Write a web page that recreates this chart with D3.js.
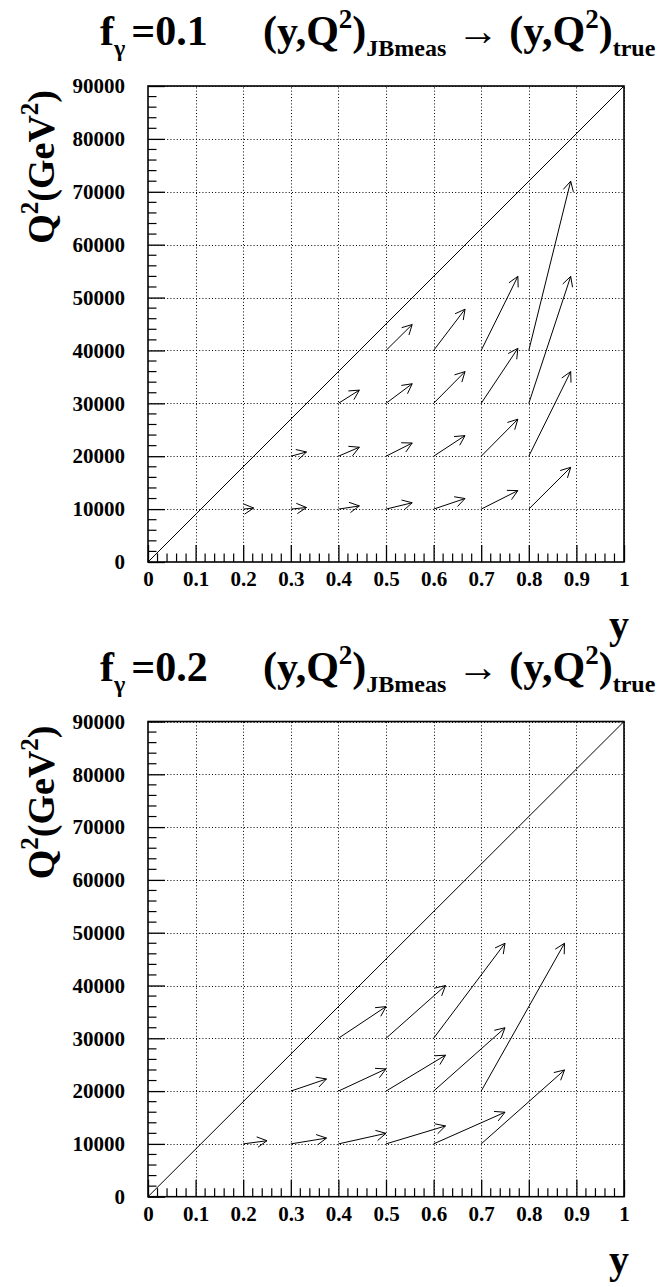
<!DOCTYPE html>
<html>
<head>
<meta charset="utf-8">
<script src="https://cdn.jsdelivr.net/npm/d3@7"></script>
<style>
  body { margin: 0; background: #fff; }
  svg { display: block; }
</style>
</head>
<body>
<script>
// ---- axis ticks ----
const yTicks = [0, 0.1, 0.2, 0.3, 0.4, 0.5, 0.6, 0.7, 0.8, 0.9, 1];
const yTickLabels = ["0", "0.1", "0.2", "0.3", "0.4", "0.5", "0.6", "0.7", "0.8", "0.9", "1"];
const q2Ticks = [0, 10000, 20000, 30000, 40000, 50000, 60000, 70000, 80000, 90000];
const q2TickLabels = ["0", "10000", "20000", "30000", "40000", "50000", "60000", "70000", "80000", "90000"];

// kinematic limit Q2 = s*y
const limitY = [0, 1];
const limitQ2 = [0, 90000];

// ---- f_gamma = 0.1 : measured (JB) -> true migration ----
const fGammaA = "0.1";
const rowsA_Q2meas = [10000, 20000, 30000, 40000];
const rowsA_yMeas = [
  [0.2, 0.3, 0.4, 0.5, 0.6, 0.7, 0.8],
  [0.3, 0.4, 0.5, 0.6, 0.7, 0.8],
  [0.4, 0.5, 0.6, 0.7, 0.8],
  [0.5, 0.6, 0.7, 0.8]
];
const rowsA_yTrue = [
  [0.222, 0.333, 0.444, 0.555, 0.666, 0.777, 0.888],
  [0.333, 0.444, 0.555, 0.666, 0.777, 0.888],
  [0.444, 0.555, 0.666, 0.777, 0.888],
  [0.555, 0.666, 0.777, 0.888]
];
const rowsA_Q2true = [
  [10200, 10300, 10600, 11200, 12000, 13500, 17900],
  [20800, 21700, 22500, 23900, 27000, 36000],
  [32500, 33700, 36000, 40400, 54000],
  [44900, 47800, 54000, 72000]
];

// ---- f_gamma = 0.2 ----
const fGammaB = "0.2";
const rowsB_Q2meas = [10000, 20000, 30000];
const rowsB_yMeas = [
  [0.2, 0.3, 0.4, 0.5, 0.6, 0.7],
  [0.3, 0.4, 0.5, 0.6, 0.7],
  [0.4, 0.5, 0.6]
];
const rowsB_yTrue = [
  [0.25, 0.375, 0.5, 0.625, 0.75, 0.875],
  [0.375, 0.5, 0.625, 0.75, 0.875],
  [0.5, 0.625, 0.75]
];
const rowsB_Q2true = [
  [10600, 11100, 12000, 13400, 16000, 24000],
  [22300, 24200, 26800, 32000, 48000],
  [36000, 40000, 48000]
];

function buildArrows(q2meas, yMeas, yTrue, q2True) {
  const out = [];
  q2meas.forEach((q, r) => {
    yMeas[r].forEach((y0, i) => {
      out.push({ y0: y0, q0: q, y1: yTrue[r][i], q1: q2True[r][i] });
    });
  });
  return out;
}

const panels = [
  { top: 86, bottom: 562, f: fGammaA,
    arrows: buildArrows(rowsA_Q2meas, rowsA_yMeas, rowsA_yTrue, rowsA_Q2true) },
  { top: 721.5, bottom: 1196.7, f: fGammaB,
    arrows: buildArrows(rowsB_Q2meas, rowsB_yMeas, rowsB_yTrue, rowsB_Q2true) }
];

const W = 665, H = 1287;
const plotLeft = 148, plotRight = 624;
const FONT = '"Liberation Serif", "Times New Roman", Times, serif';

const svg = d3.select("body").append("svg")
  .attr("width", W).attr("height", H)
  .attr("viewBox", `0 0 ${W} ${H}`);

function serif(sel, size) {
  return sel.style("font-family", FONT).style("font-weight", "bold")
    .style("font-size", size + "px").style("fill", "#000");
}

panels.forEach(p => drawPanel(p));

function drawPanel(p) {
  const g = svg.append("g");
  const x = d3.scaleLinear().domain([0, 1]).range([plotLeft, plotRight]);
  const y = d3.scaleLinear().domain([0, 90000]).range([p.bottom, p.top]);

  // dotted grid
  const grid = g.append("g")
    .attr("stroke", "#000").attr("stroke-width", 1)
    .attr("stroke-dasharray", "1,2.2").attr("fill", "none");
  grid.selectAll("line.v").data(yTicks.slice(1)).join("line")
    .attr("x1", d => Math.round(x(d)) + 0.5).attr("x2", d => Math.round(x(d)) + 0.5)
    .attr("y1", p.bottom).attr("y2", p.top);
  grid.selectAll("line.h").data(q2Ticks.slice(1)).join("line")
    .attr("x1", plotLeft).attr("x2", plotRight)
    .attr("y1", d => Math.round(y(d)) + 0.5).attr("y2", d => Math.round(y(d)) + 0.5);

  // bottom axis, ticks pointing into the frame
  const xAxis = d3.axisBottom(x)
    .tickValues(yTicks)
    .tickFormat((d, i) => yTickLabels[i])
    .tickSizeInner(-17).tickSizeOuter(0).tickPadding(17);
  const gx = g.append("g").attr("transform", `translate(0,${p.bottom})`).call(xAxis);
  gx.attr("font-family", null);
  gx.select(".domain").remove();
  gx.selectAll(".tick line").attr("stroke", "#000").attr("stroke-width", 1.3);
  serif(gx.selectAll(".tick text"), 21).attr("dy", "0.35em");

  const xMinor = d3.range(0, 51).map(i => i / 50).filter((v, i) => i % 5 !== 0);
  g.append("g").selectAll("line").data(xMinor).join("line")
    .attr("x1", d => x(d)).attr("x2", d => x(d))
    .attr("y1", p.bottom).attr("y2", p.bottom - 8.5)
    .attr("stroke", "#000").attr("stroke-width", 1.2);

  // left axis
  const yAxis = d3.axisLeft(y)
    .tickValues(q2Ticks)
    .tickFormat((d, i) => q2TickLabels[i])
    .tickSizeInner(-17).tickSizeOuter(0).tickPadding(23);
  const gy = g.append("g").attr("transform", `translate(${plotLeft},0)`).call(yAxis);
  gy.attr("font-family", null);
  gy.select(".domain").remove();
  gy.selectAll(".tick line").attr("stroke", "#000").attr("stroke-width", 1.3);
  serif(gy.selectAll(".tick text"), 21);

  const qMinor = d3.range(0, 46).map(i => i * 2000).filter((v, i) => i % 5 !== 0);
  g.append("g").selectAll("line").data(qMinor).join("line")
    .attr("x1", plotLeft).attr("x2", plotLeft + 8.5)
    .attr("y1", d => y(d)).attr("y2", d => y(d))
    .attr("stroke", "#000").attr("stroke-width", 1.2);

  // frame
  g.append("rect")
    .attr("x", plotLeft).attr("y", p.top)
    .attr("width", plotRight - plotLeft).attr("height", p.bottom - p.top)
    .attr("fill", "none").attr("stroke", "#000").attr("stroke-width", 1.6);

  // kinematic limit
  g.append("line")
    .attr("x1", x(limitY[0])).attr("y1", y(limitQ2[0]))
    .attr("x2", x(limitY[1])).attr("y2", y(limitQ2[1]))
    .attr("stroke", "#000").attr("stroke-width", 1);

  // migration arrows (open heads)
  const headLen = 11, headAng = 28 * Math.PI / 180;
  const ag = g.append("g").attr("stroke", "#000").attr("stroke-width", 1).attr("fill", "none");
  p.arrows.forEach(a => {
    const sx = x(a.y0), sy = y(a.q0), ex = x(a.y1), ey = y(a.q1);
    const ang = Math.atan2(ey - sy, ex - sx);
    ag.append("line").attr("x1", sx).attr("y1", sy).attr("x2", ex).attr("y2", ey);
    const h = [ang + Math.PI - headAng, ang + Math.PI + headAng].map(t =>
      [ex + headLen * Math.cos(t), ey + headLen * Math.sin(t)]);
    ag.append("path").attr("d", `M${h[0][0]},${h[0][1]}L${ex},${ey}L${h[1][0]},${h[1][1]}`);
  });

  // vertical axis title
  const yt = serif(g.append("text"), 38)
    .attr("transform", `translate(54,${p.top + 4}) rotate(-90)`)
    .attr("text-anchor", "end");
  yt.append("tspan").text("Q");
  serif(yt.append("tspan"), 25).attr("dy", -16).text("2");
  yt.append("tspan").attr("dy", 16).text("(GeV");
  serif(yt.append("tspan"), 25).attr("dy", -16).text("2");
  yt.append("tspan").attr("dy", 16).text(")");

  // horizontal axis title
  serif(g.append("text"), 40)
    .attr("x", 629).attr("y", p.bottom + 76)
    .attr("text-anchor", "end").text("y");

  // title
  const base = p.top - 41;
  const t1 = serif(g.append("text"), 42).attr("x", 100).attr("y", base);
  t1.append("tspan").text("f");
  serif(t1.append("tspan"), 24).attr("dy", 11).text("γ");
  t1.append("tspan").attr("dy", -11).attr("dx", 6).text("=" + p.f);

  const t2 = serif(g.append("text"), 42).attr("x", 263).attr("y", base);
  t2.append("tspan").text("(y,Q");
  serif(t2.append("tspan"), 27).attr("dy", -17).text("2");
  t2.append("tspan").attr("dy", 17).text(")");
  serif(t2.append("tspan"), 24).attr("dy", 11).text("JBmeas");
  t2.append("tspan").attr("dy", -11).text(" \u2192 (y,Q");
  serif(t2.append("tspan"), 27).attr("dy", -17).text("2");
  t2.append("tspan").attr("dy", 17).text(")");
  serif(t2.append("tspan"), 24).attr("dy", 11).text("true");
}
</script>
</body>
</html>
